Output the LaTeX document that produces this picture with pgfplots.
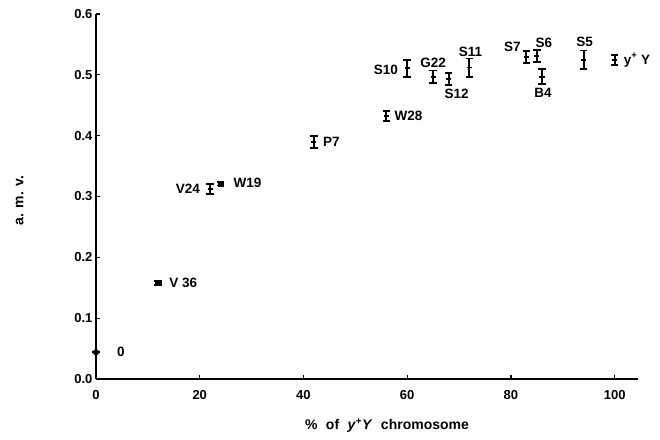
\documentclass[border=0pt]{standalone}
\usepackage{pgfplots}
\pgfplotsset{compat=1.18}
\usepackage{pgfplotstable}
\usepackage{fontspec}
\setmainfont{Liberation Sans}

% % of y+Y, a.m.v., error, label, label anchor angle and shift
\pgfplotstableread{
x    y      e      lab                       ang  dx   dy
0    0.044  0      {0}                       180  20   0
12   0.158  0.003  {V 36}                    180  10   0
22   0.312  0.008  {V24}                     0    -9   0
24   0.321  0.003  {W19}                     180  12   1
42   0.390  0.010  {P7}                      180  8    0
56   0.432  0.008  {W28}                     180  7    0
60   0.511  0.014  {S10}                     0    -8   -2
65   0.497  0.010  {G22}                     270  0    8
68   0.493  0.010  {S12}                     90   8    -9
72   0.512  0.015  {S11}                     270  1    10
83   0.529  0.010  {S7}                      270  -14  4
85   0.531  0.010  {S6}                      270  7    7
86   0.497  0.012  {B4}                      90   1    -10
94   0.525  0.015  {S5}                      270  1    12
100  0.524  0.008  {y\textsuperscript{+} Y}  180  8    0
}\amv

\begin{document}
\begin{tikzpicture}
\useasboundingbox (-96pt,-60pt) rectangle (564pt,379pt);
\begin{axis}[
    scale only axis,
    width=542pt, height=365pt,
    xmin=0, xmax=104.5, ymin=0, ymax=0.6,
    axis lines*=left,
    axis line style={line width=1.6pt},
    tick align=inside,
    major tick length=4pt,
    tick style={line width=1.2pt, black},
    xtick={0,20,...,100},
    ytick={0,0.1,...,0.6},
    yticklabel style={/pgf/number format/.cd, fixed, fixed zerofill, precision=1},
    xticklabel style={yshift=-8pt},
    /pgf/number format/assume math mode=true,
    tick label style={font=\fontsize{13}{15}\selectfont\bfseries},
    xlabel={\%\hspace{0.6em}of\hspace{0.6em}\textit{y}\textsuperscript{+}\textit{Y}\hspace{0.6em}chromosome},
    ylabel={a. m. v.},
    label style={font=\fontsize{14}{16}\selectfont\bfseries},
    xlabel style={yshift=-12pt, xshift=20pt},
    ylabel style={yshift=44pt, xshift=-4pt},
    clip=false,
]
\addplot[
    only marks, mark=-, mark size=2.6pt, line width=1.8pt,
    error bars/.cd, y dir=both, y explicit,
    error bar style={line width=2pt},
    error mark options={rotate=90, mark size=3.8pt, line width=1.8pt},
] table[x=x, y=y, y error=e] {\amv};
\addplot[
    only marks, mark=none,
    point meta=explicit symbolic,
    visualization depends on={\thisrow{ang} \as \ang},
    visualization depends on={\thisrow{dx} \as \dx},
    visualization depends on={\thisrow{dy} \as \dy},
    nodes near coords,
    every node near coord/.append style={
        font=\fontsize{13.5}{15}\selectfont\bfseries,
        anchor=\ang, xshift=\dx pt, yshift=\dy pt, inner sep=1pt},
] table[x=x, y=y, meta=lab] {\amv};
\addplot[only marks, mark=square*, mark size=2.6pt] coordinates {(12,0.158) (24,0.321)};
\addplot[only marks, mark=*, mark size=2.8pt] coordinates {(0,0.044)};
\end{axis}
\end{tikzpicture}
\end{document}
